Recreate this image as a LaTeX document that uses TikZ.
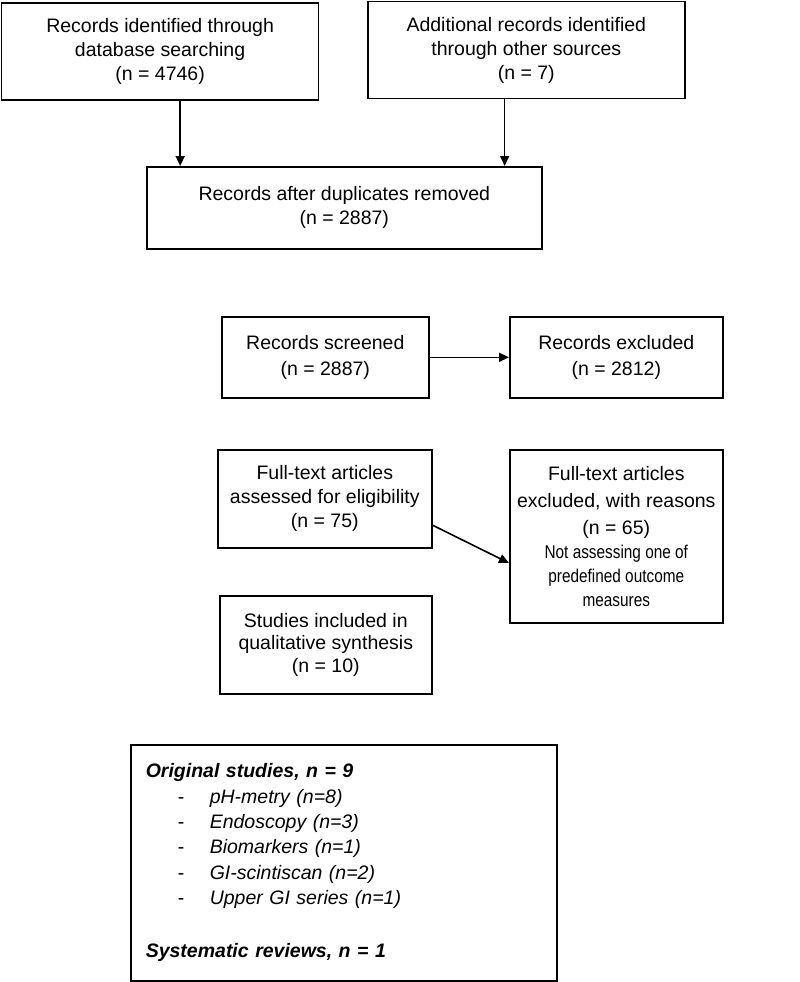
\documentclass[tikz,border=0pt]{standalone}
\usepackage{fontspec}
\setmainfont{Liberation Sans}
\newfontfamily\narrowfont[FakeStretch=0.83]{Liberation Sans}
\usetikzlibrary{arrows.meta,calc}
\begin{document}
\begin{tikzpicture}[x=1pt,y=-1pt,
  box/.style={draw=black,line width=1.6pt,anchor=north west,inner sep=0pt,align=center,
    font=\fontsize{19.5}{24}\selectfont},
  arr/.style={line width=1.6pt,-{Triangle[length=10pt,width=9pt]}}]
\useasboundingbox (0,0) rectangle (800,982);
\node[box,minimum width=317pt,minimum height=97pt] (b1) at (0.8,2)
  {Records identified through\\database searching\\(n = 4746)};
\node[box,minimum width=317pt,minimum height=97pt] (b2) at (367,0.8)
  {Additional records identified\\through other sources\\(n = 7)};
\node[box,minimum width=395pt,minimum height=82pt] (b3) at (146,166)
  {Records after duplicates removed\\(n = 2887)};
\node[box,minimum width=207pt,minimum height=81pt,font=\fontsize{19.5}{26}\selectfont] (scr) at (221,316)
  {Records screened\\(n = 2887)};
\node[box,minimum width=213pt,minimum height=81pt,font=\fontsize{19.5}{26}\selectfont] (exc) at (509,316)
  {Records excluded\\(n = 2812)};
\node[box,minimum width=214pt,minimum height=98pt] (ft) at (217,449)
  {Full-text articles\\assessed for eligibility\\(n = 75)};
\node[box,minimum width=213pt,minimum height=173pt] (ftx) at (509,449)
  {Full-text articles\\[3pt]excluded, with reasons\\[3pt](n = 65)\\
   {\narrowfont\fontsize{18.5}{24}\selectfont Not assessing one of}\\
   {\narrowfont\fontsize{18.5}{24}\selectfont predefined outcome}\\
   {\narrowfont\fontsize{18.5}{24}\selectfont measures}};
\node[box,minimum width=212pt,minimum height=98pt,font=\fontsize{19.5}{22.5}\selectfont] (inc) at (219,595)
  {Studies included in\\qualitative synthesis\\(n = 10)};
\node[box,minimum width=426pt,minimum height=236pt,inner xsep=15pt,text width=396pt,align=left,
  font=\fontsize{19.5}{25.3}\selectfont] (bot) at (130,744)
  {\textbf{\textit{Original studies, n = 9}}\\
   \hspace*{32pt}\makebox[32pt][l]{-}\textit{pH-metry (n=8)}\\
   \hspace*{32pt}\makebox[32pt][l]{-}\textit{Endoscopy (n=3)}\\
   \hspace*{32pt}\makebox[32pt][l]{-}\textit{Biomarkers (n=1)}\\
   \hspace*{32pt}\makebox[32pt][l]{-}\textit{GI-scintiscan (n=2)}\\
   \hspace*{32pt}\makebox[32pt][l]{-}\textit{Upper GI series (n=1)}\\[28pt]
   \textbf{\textit{Systematic reviews, n = 1}}};
\coordinate (s1) at ($(b1.south west)!0.563!(b1.south east)$);
\coordinate (s2) at ($(b2.south west)!0.432!(b2.south east)$);
\coordinate (s3) at ($(ft.north east)!0.765!(ft.south east)$);
\coordinate (e3) at ($(ftx.north west)!0.653!(ftx.south west)$);
\draw[arr] (s1) -- (s1 |- b3.north);
\draw[arr] (s2) -- (s2 |- b3.north);
\draw[arr] (scr.east) -- (exc.west);
\draw[arr] (s3) -- (e3);
\end{tikzpicture}
\end{document}
